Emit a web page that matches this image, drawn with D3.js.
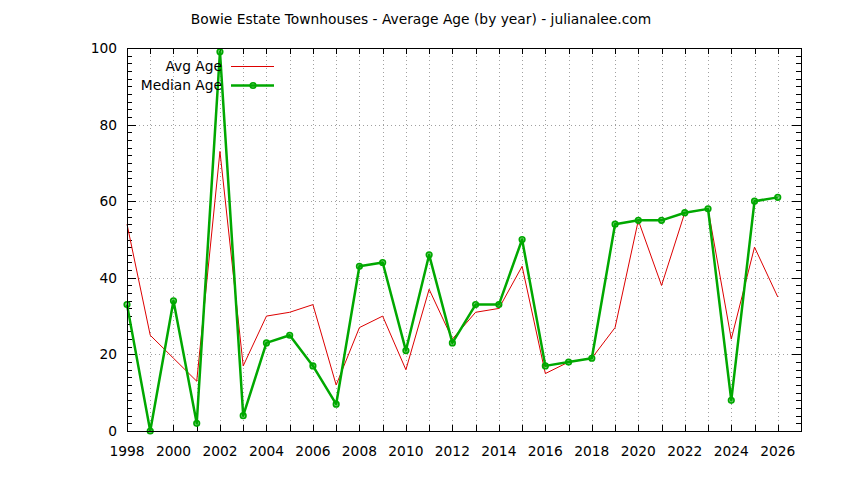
<!DOCTYPE html>
<html>
<head>
<meta charset="utf-8">
<title>Bowie Estate Townhouses - Average Age</title>
<script src="https://d3js.org/d3.v7.min.js"></script>
<style>
  body { margin: 0; background: #fff; }
  text { font-family: "DejaVu Sans", sans-serif; fill: #000; }
</style>
</head>
<body>
<script>
// data
const years = [1998, 1999, 2000, 2001, 2002, 2003, 2004, 2005, 2006, 2007, 2008, 2009, 2010, 2011,
               2012, 2013, 2014, 2015, 2016, 2017, 2018, 2019, 2020, 2021, 2022, 2023, 2024, 2025, 2026];
const avgAge = [54, 25, 19, 13, 73, 17, 30, 31, 33, 12, 27, 30, 16, 37,
                24, 31, 32, 43, 15, 18, 19, 27, 55, 38, 57, 58, 24, 48, 35];
const medianAge = [33, 0, 34, 2, 99, 4, 23, 25, 17, 7, 43, 44, 21, 46,
                   23, 33, 33, 50, 17, 18, 19, 54, 55, 55, 57, 58, 8, 60, 61];
const xTickLabels = d3.range(1998, 2027, 2);
const yTickLabels = [0, 20, 40, 60, 80, 100];

const width = 844, height = 480;
const plotL = 127, plotR = 801, plotT = 48, plotB = 431;
const fontSize = 13.8;

const svg = d3.select('body').append('svg')
    .attr('width', width)
    .attr('height', height);

const x = d3.scaleLinear().domain([1998, 2027]).range([plotL, plotR]);
const y = d3.scaleLinear().domain([0, 100]).range([plotB, plotT]);

// grid
const grid = svg.append('g')
    .attr('stroke', '#a0a0a0')
    .attr('stroke-width', 1)
    .attr('stroke-dasharray', '1,3');
grid.selectAll('line.vx')
    .data(d3.range(1999, 2027))
    .enter().append('line')
    .attr('x1', d => Math.round(x(d)) + 0.5).attr('x2', d => Math.round(x(d)) + 0.5)
    .attr('y1', plotT).attr('y2', plotB);
grid.selectAll('line.hy')
    .data([20, 40, 60, 80])
    .enter().append('line')
    .attr('x1', plotL).attr('x2', plotR)
    .attr('y1', d => Math.round(y(d)) + 0.5).attr('y2', d => Math.round(y(d)) + 0.5);

// ticks
const ticks = svg.append('g').attr('stroke', '#000').attr('stroke-width', 1);
d3.range(1998, 2027).forEach(yr => {
    const px = Math.round(x(yr)) + 0.5;
    ticks.append('line').attr('x1', px).attr('x2', px).attr('y1', plotB).attr('y2', plotB - 6);
    ticks.append('line').attr('x1', px).attr('x2', px).attr('y1', plotT).attr('y2', plotT + 6);
});
d3.range(0, 101, 2).forEach(v => {
    const py = Math.round(y(v)) + 0.5;
    const len = v % 20 === 0 ? 9 : 5;
    ticks.append('line').attr('x1', plotL).attr('x2', plotL + len).attr('y1', py).attr('y2', py);
    ticks.append('line').attr('x1', plotR).attr('x2', plotR - len).attr('y1', py).attr('y2', py);
});

// tick labels
svg.append('g').selectAll('text')
    .data(xTickLabels)
    .enter().append('text')
    .attr('x', d => x(d))
    .attr('y', 456)
    .attr('text-anchor', 'middle')
    .attr('font-size', fontSize)
    .text(d => d);
svg.append('g').selectAll('text')
    .data(yTickLabels)
    .enter().append('text')
    .attr('x', 117)
    .attr('y', d => y(d) + 5)
    .attr('text-anchor', 'end')
    .attr('font-size', fontSize)
    .text(d => d);

// lines
const line = d3.line().x((d, i) => x(years[i])).y(d => y(d));

svg.append('path')
    .datum(avgAge)
    .attr('fill', 'none')
    .attr('stroke', '#dd0000')
    .attr('stroke-width', 1)
    .attr('d', line);

svg.append('path')
    .datum(medianAge)
    .attr('fill', 'none')
    .attr('stroke', '#00a800')
    .attr('stroke-width', 2.5)
    .attr('stroke-linejoin', 'round')
    .attr('d', line);

svg.append('g').selectAll('circle')
    .data(medianAge)
    .enter().append('circle')
    .attr('cx', (d, i) => x(years[i]))
    .attr('cy', d => y(d))
    .attr('r', 2.8)
    .attr('fill', '#00a800')
    .attr('fill-opacity', 0.5)
    .attr('stroke', '#00a800')
    .attr('stroke-width', 1.6);

// frame
svg.append('rect')
    .attr('x', plotL + 0.5).attr('y', plotT + 0.5)
    .attr('width', plotR - plotL).attr('height', plotB - plotT)
    .attr('fill', 'none')
    .attr('stroke', '#000')
    .attr('stroke-width', 1);

// legend
const legend = svg.append('g');
legend.append('text').attr('x', 222).attr('y', 71).attr('text-anchor', 'end')
    .attr('font-size', fontSize).text('Avg Age');
legend.append('line').attr('x1', 231).attr('x2', 274).attr('y1', 66.5).attr('y2', 66.5)
    .attr('stroke', '#dd0000').attr('stroke-width', 1);
legend.append('text').attr('x', 222).attr('y', 90).attr('text-anchor', 'end')
    .attr('font-size', fontSize).text('Median Age');
legend.append('line').attr('x1', 231).attr('x2', 274).attr('y1', 85.5).attr('y2', 85.5)
    .attr('stroke', '#00a800').attr('stroke-width', 2.5);
legend.append('circle').attr('cx', 253).attr('cy', 85.5).attr('r', 2.8)
    .attr('fill', '#00a800').attr('fill-opacity', 0.5)
    .attr('stroke', '#00a800').attr('stroke-width', 1.6);

// title
svg.append('text')
    .attr('x', 421).attr('y', 24)
    .attr('text-anchor', 'middle')
    .attr('font-size', fontSize)
    .text('Bowie Estate Townhouses - Average Age (by year) - julianalee.com');
</script>
</body>
</html>
